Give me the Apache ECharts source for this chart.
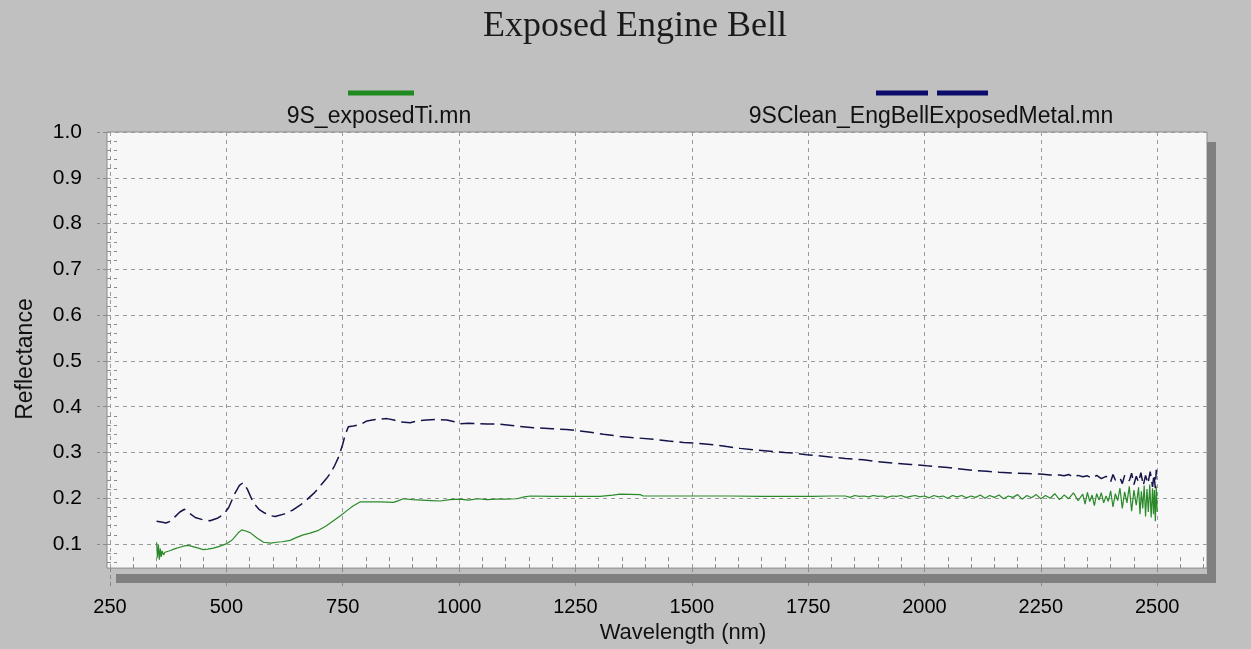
<!DOCTYPE html>
<html>
<head>
<meta charset="utf-8">
<script src="https://cdn.jsdelivr.net/npm/echarts@6/dist/echarts.min.js"></script>
<style>
html,body{margin:0;padding:0;background:#fff;}
#chart{width:1251px;height:649px;}
</style>
</head>
<body>
<div id="chart"></div>
<script>
// ---- data ----
var titleText = 'Exposed Engine Bell';
var seriesNames = ['9S_exposedTi.mn', '9SClean_EngBellExposedMetal.mn'];

var xTicks = [250, 500, 750, 1000, 1250, 1500, 1750, 2000, 2250, 2500];
var xMinorTicks = [300, 350, 400, 450, 550, 600, 650, 700, 800, 850, 900, 950,
  1050, 1100, 1150, 1200, 1300, 1350, 1400, 1450, 1550, 1600, 1650, 1700,
  1800, 1850, 1900, 1950, 2050, 2100, 2150, 2200, 2300, 2350, 2400, 2450, 2550, 2600];
var yTicks = [0.1, 0.2, 0.3, 0.4, 0.5, 0.6, 0.7, 0.8, 0.9, 1.0];
var yMinorTicks = [0.06, 0.08, 0.12, 0.14, 0.16, 0.18, 0.22, 0.24, 0.26, 0.28,
  0.32, 0.34, 0.36, 0.38, 0.42, 0.44, 0.46, 0.48, 0.52, 0.54, 0.56, 0.58,
  0.62, 0.64, 0.66, 0.68, 0.72, 0.74, 0.76, 0.78, 0.82, 0.84, 0.86, 0.88,
  0.92, 0.94, 0.96, 0.98];

// 9S_exposedTi.mn (green)
var tiWave = [350, 352, 354, 356, 358, 360, 362, 365, 368, 372, 380, 390, 400, 410, 418, 430, 440, 450, 460, 472,
  485, 501, 510, 515, 525, 533, 540, 551, 565, 580, 595, 608, 620, 637, 650, 665, 680, 698, 715, 730,
  745, 759, 772, 787, 800, 830, 859, 870, 880, 900, 920, 940, 959, 980, 1002, 1020, 1040, 1060, 1080, 1100,
  1124, 1140, 1153, 1200, 1250, 1303, 1330, 1346, 1389, 1396, 1450, 1500, 1550, 1582, 1650, 1711, 1760, 1800,
  1830, 1840, 1850, 1860, 1870, 1880, 1890, 1900, 1910, 1920, 1930, 1940, 1950, 1960, 1970, 1980, 1990, 2000,
  2010, 2020, 2030, 2040, 2050, 2060, 2070, 2080, 2090, 2100, 2110, 2120, 2130, 2140, 2150, 2160, 2170, 2180,
  2190, 2200, 2210, 2220, 2230, 2240, 2250, 2260, 2270, 2280, 2290, 2300, 2310, 2320, 2330, 2340, 2345, 2350,
  2355, 2360, 2365, 2370, 2375, 2380, 2385, 2390, 2395, 2400, 2405, 2410, 2415, 2420, 2425, 2430, 2435, 2440,
  2445, 2450, 2455, 2460, 2463, 2466, 2469, 2472, 2475, 2478, 2481, 2484, 2487, 2490, 2492, 2494, 2496, 2498, 2500];
var tiRefl = [0.104, 0.070, 0.098, 0.066, 0.090, 0.072, 0.085, 0.076, 0.082, 0.083, 0.086, 0.090, 0.093, 0.096, 0.097, 0.094, 0.091, 0.088, 0.089, 0.091,
  0.095, 0.101, 0.107, 0.112, 0.124, 0.131, 0.129, 0.125, 0.114, 0.104, 0.102, 0.104, 0.105, 0.108, 0.114, 0.120, 0.124, 0.130, 0.140, 0.151,
  0.162, 0.173, 0.183, 0.192, 0.192, 0.192, 0.191, 0.195, 0.199, 0.197, 0.196, 0.195, 0.194, 0.197, 0.198, 0.196, 0.199, 0.197, 0.198, 0.198,
  0.199, 0.203, 0.205, 0.204, 0.204, 0.204, 0.207, 0.209, 0.208, 0.205, 0.205, 0.205, 0.205, 0.205, 0.204, 0.204, 0.204, 0.205,
  0.205, 0.202, 0.206, 0.204, 0.205, 0.203, 0.206, 0.204, 0.205, 0.202, 0.205, 0.204, 0.206, 0.202, 0.204, 0.206, 0.203, 0.205,
  0.201, 0.206, 0.203, 0.205, 0.200, 0.206, 0.203, 0.206, 0.201, 0.205, 0.202, 0.207, 0.200, 0.206, 0.202, 0.207, 0.199, 0.205,
  0.202, 0.208, 0.198, 0.206, 0.201, 0.208, 0.199, 0.206, 0.200, 0.210, 0.197, 0.207, 0.199, 0.212, 0.195, 0.209, 0.187, 0.213,
  0.193, 0.207, 0.184, 0.210, 0.196, 0.212, 0.190, 0.205, 0.193, 0.216, 0.181, 0.210, 0.195, 0.222, 0.178, 0.214, 0.190, 0.226,
  0.172, 0.218, 0.185, 0.224, 0.165, 0.215, 0.178, 0.228, 0.160, 0.220, 0.170, 0.230, 0.158, 0.222, 0.165, 0.218, 0.150, 0.225, 0.170];

// 9SClean_EngBellExposedMetal.mn (navy, dashed)
var metalWave = [350, 360, 370, 380, 390, 400, 410, 420, 433, 450, 465, 482, 495, 505, 519, 528, 536, 545, 558, 570,
  580, 595, 605, 625, 644, 660, 673, 690, 701, 715, 723, 733, 741, 750, 755, 762, 773, 790, 802, 820,
  845, 860, 873, 895, 910, 930, 950, 974, 990, 1002, 1020, 1038, 1060, 1088, 1120, 1160, 1200, 1231, 1260, 1282,
  1310, 1346, 1380, 1418, 1450, 1482, 1515, 1547, 1575, 1604, 1640, 1676, 1700, 1726, 1747, 1770, 1797, 1830, 1869, 1900,
  1941, 1970, 2005, 2019, 2050, 2077, 2105, 2134, 2160, 2191, 2220, 2249, 2270, 2290, 2300, 2310, 2320, 2330, 2340, 2350,
  2360, 2370, 2380, 2390, 2400, 2405, 2410, 2420, 2425, 2430, 2440, 2445, 2450, 2455, 2460, 2465, 2470, 2475, 2480, 2485,
  2490, 2493, 2496, 2498, 2500];
var metalRefl = [0.150, 0.148, 0.146, 0.150, 0.160, 0.170, 0.176, 0.168, 0.158, 0.153, 0.151, 0.157, 0.166, 0.180, 0.212, 0.228, 0.234, 0.220, 0.190, 0.176,
  0.169, 0.162, 0.160, 0.166, 0.175, 0.186, 0.197, 0.213, 0.226, 0.243, 0.254, 0.272, 0.290, 0.318, 0.338, 0.356, 0.358, 0.362, 0.369, 0.372,
  0.374, 0.371, 0.367, 0.365, 0.369, 0.371, 0.372, 0.371, 0.367, 0.363, 0.364, 0.363, 0.362, 0.362, 0.358, 0.354, 0.352, 0.350, 0.347, 0.344,
  0.340, 0.335, 0.332, 0.329, 0.325, 0.322, 0.320, 0.317, 0.313, 0.309, 0.305, 0.302, 0.300, 0.298, 0.295, 0.293, 0.290, 0.287, 0.284, 0.280,
  0.276, 0.274, 0.271, 0.270, 0.267, 0.264, 0.261, 0.259, 0.257, 0.255, 0.254, 0.253, 0.251, 0.251, 0.249, 0.252, 0.246, 0.250, 0.247, 0.249,
  0.244, 0.250, 0.243, 0.248, 0.236, 0.252, 0.240, 0.245, 0.232, 0.250, 0.238, 0.255, 0.230, 0.248, 0.235, 0.256, 0.228, 0.250, 0.232, 0.258,
  0.225, 0.252, 0.222, 0.262, 0.240];

function pairs(xs, ys) { return xs.map(function (x, i) { return [x, ys[i]]; }); }

var FONT = '"Liberation Sans", Arial, sans-serif';
var GRIDC = '#9a9a9a';
var TICKC = '#8a8a8a';

var chart = echarts.init(document.getElementById('chart'), null, {renderer: 'canvas'});
var option = {
  backgroundColor: '#c0c0c0',
  animation: false,
  title: {
    text: titleText,
    left: 630, top: 4, textAlign: 'center',
    textStyle: {fontFamily: '"Liberation Serif", "Times New Roman", serif', fontSize: 36, fontWeight: 'normal', color: '#1a1a1a'}
  },
  grid: {
    left: 107, right: 44, top: 132, bottom: 76,
    show: true, backgroundColor: '#f7f7f7', borderColor: '#8c8c8c', borderWidth: 1
  },
  xAxis: [{
    type: 'value', min: 243.5, max: 2607, position: 'bottom',
    axisLine: {show: false},
    axisTick: {show: true, customValues: xTicks, length: 20, lineStyle: {color: TICKC, type: [4, 3]}},
    axisLabel: {customValues: xTicks, margin: 29, fontSize: 20, color: '#000', fontFamily: FONT,
      formatter: function (v) { return String(v); }},
    splitLine: {show: true, lineStyle: {color: GRIDC, type: [4, 4], width: 1}},
    name: 'Wavelength (nm)', nameLocation: 'middle', nameGap: 48,
    nameTextStyle: {fontSize: 22, color: '#111', fontFamily: FONT, padding: [0, 0, 0, 52]}
  }, {
    type: 'value', min: 243.5, max: 2607, position: 'bottom',
    axisLine: {show: false}, axisLabel: {show: false}, splitLine: {show: false},
    axisTick: {show: true, inside: true, customValues: xMinorTicks, length: 13, lineStyle: {color: TICKC, type: [4, 3]}}
  }],
  yAxis: [{
    type: 'value', min: 0.0475, max: 1.0, position: 'left',
    axisLine: {show: false},
    axisTick: {show: true, customValues: yTicks, length: 10, lineStyle: {color: TICKC, type: [4, 3]}},
    axisLabel: {customValues: yTicks, margin: 25, fontSize: 21, color: '#000', fontFamily: FONT,
      formatter: function (v) { return v.toFixed(1); }},
    splitLine: {show: true, lineStyle: {color: GRIDC, type: [4, 4], width: 1}},
    name: 'Reflectance', nameLocation: 'middle', nameGap: 70,
    nameTextStyle: {fontSize: 23, color: '#111', fontFamily: FONT, padding: [0, 18, 0, 0]}
  }, {
    type: 'value', min: 0.0475, max: 1.0, position: 'left',
    axisLine: {show: false}, axisLabel: {show: false}, splitLine: {show: false},
    axisTick: {show: true, inside: true, customValues: yMinorTicks, length: 10, lineStyle: {color: TICKC, type: [4, 3]}}
  }],
  graphic: [
    {type: 'rect', z: 50, shape: {x: 1207, y: 142, width: 9, height: 441}, style: {fill: '#808080'}},
    {type: 'rect', z: 50, shape: {x: 116, y: 574, width: 1100, height: 9}, style: {fill: '#808080'}},
    {type: 'line', z: 50, shape: {x1: 348, y1: 93, x2: 414, y2: 93}, style: {stroke: '#1f8a1f', lineWidth: 5}},
    {type: 'line', z: 50, shape: {x1: 876, y1: 93, x2: 928, y2: 93}, style: {stroke: '#0c0c6a', lineWidth: 5}},
    {type: 'line', z: 50, shape: {x1: 937, y1: 93, x2: 988, y2: 93}, style: {stroke: '#0c0c6a', lineWidth: 5}},
    {type: 'text', z: 50, x: 379, y: 117, style: {text: seriesNames[0], fill: '#111', font: '23px "Liberation Sans", Arial, sans-serif', textAlign: 'center', textVerticalAlign: 'middle'}},
    {type: 'text', z: 50, x: 931, y: 117, style: {text: seriesNames[1], fill: '#111', font: '23px "Liberation Sans", Arial, sans-serif', textAlign: 'center', textVerticalAlign: 'middle'}}
  ],
  series: [{
    name: seriesNames[0], type: 'line', xAxisIndex: 0, yAxisIndex: 0,
    data: pairs(tiWave, tiRefl), showSymbol: false, symbol: 'none',
    lineStyle: {color: '#2a8a2a', width: 1.2}
  }, {
    name: seriesNames[1], type: 'line', xAxisIndex: 0, yAxisIndex: 0,
    data: pairs(metalWave, metalRefl), showSymbol: false, symbol: 'none',
    lineStyle: {color: '#14144a', width: 1.5, type: [14, 6]}
  }]
};
chart.setOption(option);
</script>
</body>
</html>
